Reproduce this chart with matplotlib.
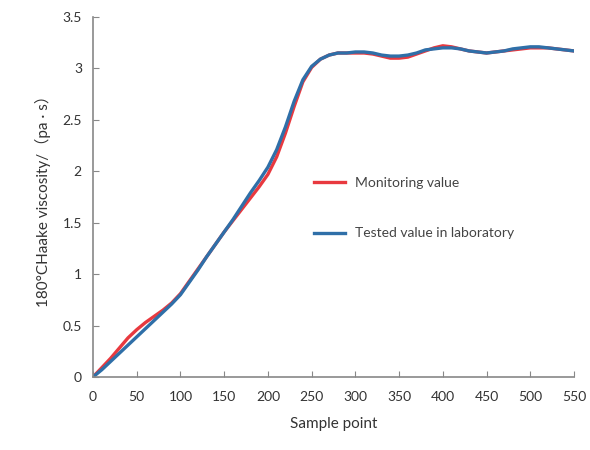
import matplotlib.pyplot as plt

# 読み取った値
sample = [0, 10, 20, 30, 40, 50, 60, 70, 80, 90, 100, 110, 120, 130, 140, 150,
          160, 170, 180, 190, 200, 210, 220, 230, 240, 250, 260, 270, 280, 290,
          300, 310, 320, 330, 340, 350, 360, 370, 380, 390, 400, 410, 420, 430,
          440, 450, 460, 470, 480, 490, 500, 510, 520, 530, 540, 550]

monitoring = [0.00, 0.09, 0.18, 0.28, 0.38, 0.46, 0.53, 0.59, 0.65, 0.72, 0.81,
              0.93, 1.05, 1.17, 1.29, 1.41, 1.52, 1.63, 1.74, 1.85, 1.97, 2.14,
              2.37, 2.63, 2.87, 3.01, 3.09, 3.13, 3.15, 3.15, 3.15, 3.15, 3.14,
              3.12, 3.10, 3.10, 3.11, 3.14, 3.17, 3.20, 3.22, 3.21, 3.19, 3.17,
              3.16, 3.15, 3.16, 3.17, 3.18, 3.19, 3.20, 3.20, 3.20, 3.19, 3.18,
              3.17]

laboratory = [0.00, 0.07, 0.15, 0.23, 0.31, 0.39, 0.47, 0.55, 0.63, 0.71, 0.80,
              0.92, 1.04, 1.17, 1.29, 1.41, 1.53, 1.66, 1.79, 1.91, 2.04, 2.21,
              2.43, 2.68, 2.89, 3.02, 3.09, 3.13, 3.15, 3.15, 3.16, 3.16, 3.15,
              3.13, 3.12, 3.12, 3.13, 3.15, 3.18, 3.19, 3.20, 3.20, 3.19, 3.17,
              3.16, 3.15, 3.16, 3.17, 3.19, 3.20, 3.21, 3.21, 3.20, 3.19, 3.18,
              3.17]

xticks = list(range(0, 551, 50))
yticks = [0, 0.5, 1, 1.5, 2, 2.5, 3, 3.5]
ytick_labels = ["0", "0.5", "1", "1.5", "2", "2.5", "3", "3.5"]

plt.rcParams["font.family"] = ["Lato", "Noto Sans CJK SC", "DejaVu Sans"]

fig = plt.figure(figsize=(5.9, 4.5), dpi=100)
ax = fig.add_axes([93 / 590, 1 - 377 / 450, 481 / 590, 360 / 450])

ax.plot(sample, monitoring, color="#e8393f", lw=2.4, label="Monitoring value")
ax.plot(sample, laboratory, color="#2f6fa8", lw=2.4, label="Tested value in laboratory")

ax.set_xlim(0, 550)
ax.set_ylim(0, 3.5)
ax.set_xticks(xticks)
ax.set_yticks(yticks)
ax.set_yticklabels(ytick_labels)

for s in ["top", "right"]:
    ax.spines[s].set_visible(False)
for s in ["left", "bottom"]:
    ax.spines[s].set_color("#888888")
    ax.spines[s].set_linewidth(1.2)
ax.tick_params(direction="in", length=4, color="#888888", labelsize=10,
               labelcolor="#333333")
ax.tick_params(axis="x", pad=10)
ax.tick_params(axis="y", pad=8)

ax.set_xlabel("Sample point", fontsize=11, color="#333333", labelpad=10)
ax.set_ylabel("180°CHaake viscosity/（pa · s）", fontsize=11, color="#333333",
              labelpad=8)

ax.legend(loc="upper left", bbox_to_anchor=(0.46, 0.555), frameon=False,
          fontsize=10, handlelength=2.2, handletextpad=0.7, labelspacing=2.75,
          borderpad=0, borderaxespad=0, labelcolor="#444444")

fig.savefig("out.png", dpi=100)
